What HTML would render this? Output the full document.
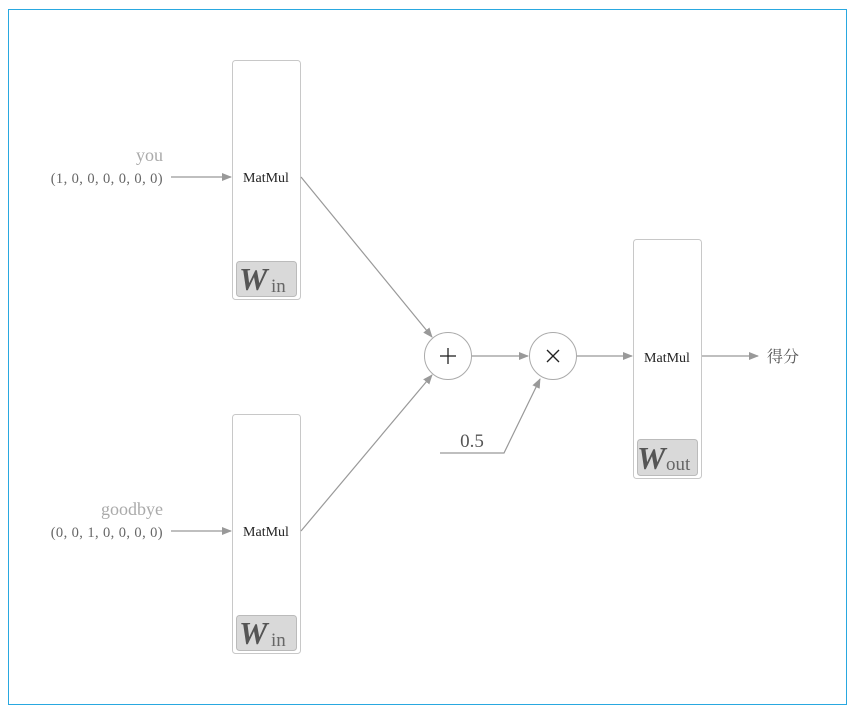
<!DOCTYPE html>
<html><head><meta charset="utf-8"><style>
html,body{margin:0;padding:0;background:#fff;}
svg{display:block;}
text{font-family:"Liberation Serif","Noto Serif CJK SC",serif;}
</style></head><body>
<svg width="853" height="708" viewBox="0 0 853 708" xmlns="http://www.w3.org/2000/svg">
<defs>
<marker id="a" markerWidth="10" markerHeight="8" refX="9" refY="4" orient="auto" markerUnits="userSpaceOnUse">
<path d="M0,0 L10,4 L0,8 z" fill="#999"/></marker>
</defs>
<rect x="8.5" y="9.5" width="838" height="695" fill="none" stroke="#29a8e0" stroke-width="1"/>
<rect x="232.5" y="60.5" width="68" height="239" rx="3" fill="none" stroke="#c8c8c8"/>
<rect x="232.5" y="414.5" width="68" height="239" rx="3" fill="none" stroke="#c8c8c8"/>
<rect x="633.5" y="239.5" width="68" height="239" rx="3" fill="none" stroke="#c8c8c8"/>
<rect x="236.5" y="261.5" width="60" height="35" rx="3" fill="#d9d9d9" stroke="#bbb"/>
<rect x="236.5" y="615.5" width="60" height="35" rx="3" fill="#d9d9d9" stroke="#bbb"/>
<rect x="637.5" y="439.5" width="60" height="36" rx="3" fill="#d9d9d9" stroke="#bbb"/>
<g fill="#555" font-weight="bold" font-style="italic" font-size="32">
<text x="239" y="290">W</text><text x="239" y="644">W</text><text x="637" y="469">W</text></g>
<g fill="#666" font-size="19">
<text x="271" y="292">in</text><text x="271" y="646">in</text><text x="666" y="470">out</text></g>
<g font-size="14" fill="#222" text-anchor="middle">
<text x="266" y="182">MatMul</text><text x="266" y="536">MatMul</text><text x="667" y="362">MatMul</text></g>
<g text-anchor="end">
<text x="163" y="161" font-size="18" fill="#aaa">you</text>
<text x="163" y="183" font-size="14.5" fill="#666" letter-spacing="0.4">(1, 0, 0, 0, 0, 0, 0)</text>
<text x="163" y="515" font-size="18" fill="#aaa">goodbye</text>
<text x="163" y="537" font-size="14.5" fill="#666" letter-spacing="0.4">(0, 0, 1, 0, 0, 0, 0)</text>
</g>
<g stroke="#999" stroke-width="1.2" fill="none">
<line x1="171" y1="177" x2="231" y2="177" marker-end="url(#a)"/>
<line x1="171" y1="531" x2="231" y2="531" marker-end="url(#a)"/>
<line x1="301" y1="177" x2="432" y2="337" marker-end="url(#a)"/>
<line x1="301" y1="531" x2="432" y2="375" marker-end="url(#a)"/>
<line x1="472" y1="356" x2="528" y2="356" marker-end="url(#a)"/>
<polyline points="440,453 504,453 540,379" marker-end="url(#a)"/>
<line x1="577" y1="356" x2="632" y2="356" marker-end="url(#a)"/>
<line x1="702" y1="356" x2="758" y2="356" marker-end="url(#a)"/>
</g>
<circle cx="448" cy="356" r="23.5" fill="#fff" stroke="#aaa"/>
<circle cx="553" cy="356" r="23.5" fill="#fff" stroke="#aaa"/>
<g stroke="#222" stroke-width="1.3">
<line x1="440" y1="356" x2="456" y2="356"/><line x1="448" y1="348" x2="448" y2="364"/>
<line x1="547" y1="350" x2="559" y2="362"/><line x1="559" y1="350" x2="547" y2="362"/>
</g>
<text x="472" y="447" font-size="19" fill="#555" text-anchor="middle">0.5</text>
<text x="767" y="362" font-size="16" fill="#555" font-family="'Noto Sans CJK SC',sans-serif">得分</text>
</svg>
</body></html>
